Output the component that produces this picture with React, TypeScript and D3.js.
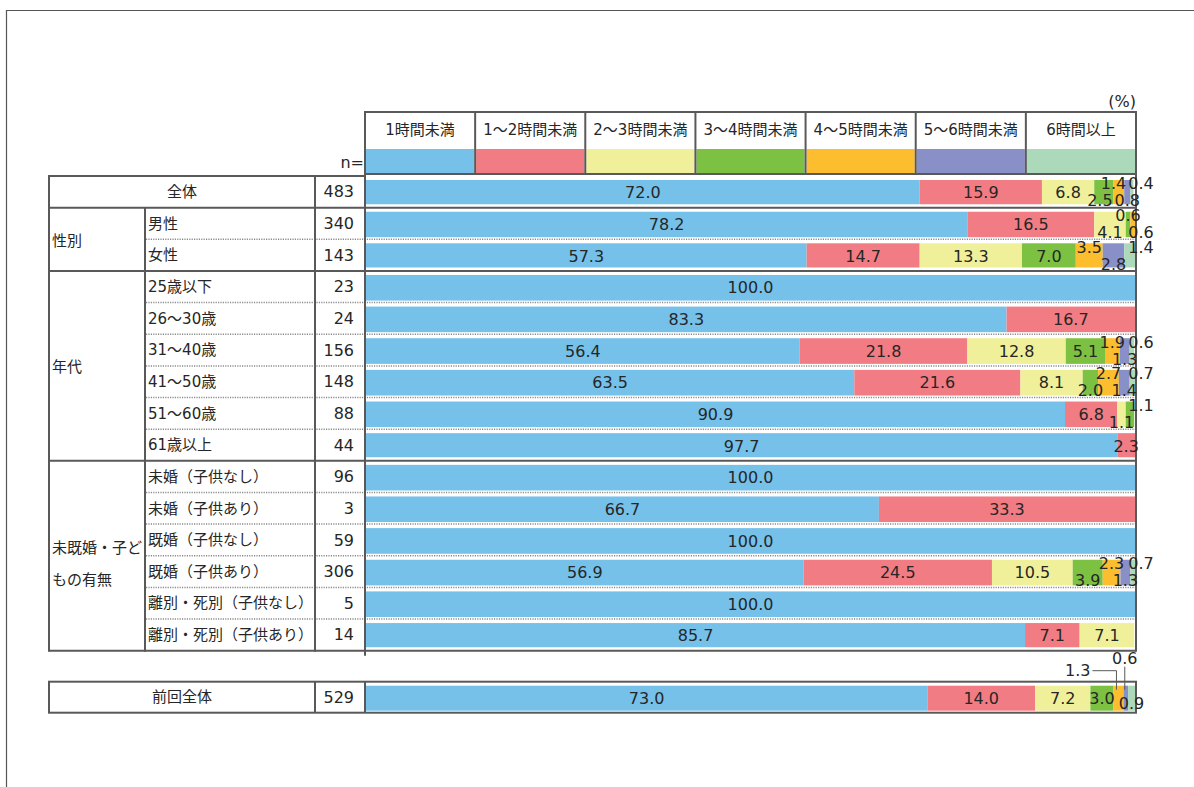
import React from 'react';
import * as d3 from 'd3';

const categories = ['1時間未満', '1～2時間未満', '2～3時間未満', '3～4時間未満', '4～5時間未満', '5～6時間未満', '6時間以上'];
const colors = ['#75c1ea', '#f27c83', '#f0f09b', '#7dc142', '#fcbe2e', '#8890c7', '#acd9ba'];

const rowLabels = [
  '全体', '男性', '女性', '25歳以下', '26～30歳', '31～40歳', '41～50歳', '51～60歳', '61歳以上',
  '未婚（子供なし）', '未婚（子供あり）', '既婚（子供なし）', '既婚（子供あり）', '離別・死別（子供なし）', '離別・死別（子供あり）',
];
const nValues = [483, 340, 143, 23, 24, 156, 148, 88, 44, 96, 3, 59, 306, 5, 14];

const groups = [
  { name: ['全体'], from: 0, to: 0 },
  { name: ['性別'], from: 1, to: 2 },
  { name: ['年代'], from: 3, to: 8 },
  { name: ['未既婚・子ど', 'もの有無'], from: 9, to: 14 },
];

const values = [
  [72.0, 15.9, 6.8, 2.5, 1.4, 0.8, 0.4],
  [78.2, 16.5, 4.1, 0.6, 0.6, 0, 0],
  [57.3, 14.7, 13.3, 7.0, 3.5, 2.8, 1.4],
  [100.0, 0, 0, 0, 0, 0, 0],
  [83.3, 16.7, 0, 0, 0, 0, 0],
  [56.4, 21.8, 12.8, 5.1, 1.9, 1.3, 0.6],
  [63.5, 21.6, 8.1, 2.0, 2.7, 1.4, 0.7],
  [90.9, 6.8, 1.1, 1.1, 0, 0, 0],
  [97.7, 2.3, 0, 0, 0, 0, 0],
  [100.0, 0, 0, 0, 0, 0, 0],
  [66.7, 33.3, 0, 0, 0, 0, 0],
  [100.0, 0, 0, 0, 0, 0, 0],
  [56.9, 24.5, 10.5, 3.9, 2.3, 1.3, 0.7],
  [100.0, 0, 0, 0, 0, 0, 0],
  [85.7, 7.1, 7.1, 0, 0, 0, 0],
];

const prevLabel = '前回全体';
const prevN = 529;
const prevValues = [73.0, 14.0, 7.2, 3.0, 1.3, 0.6, 0.9];

const FONT = '"DejaVu Sans", "Noto Sans CJK JP", sans-serif';
const FS = 16;   // numbers
const FJ = 15;   // japanese labels
const LINE = '#595959';
const TXT = '#262626';

// table columns
const xTable = 49, xSub = 145, xN = 315, xBar = 365, xEnd = 1136;
const tableTop = 176, tableBottom = 650.7;
const prevTop = 681.7, prevBottom = 712.7;
const legendTop = 112, legendMid = 149, legendBottom = 174;

const x = d3.scaleLinear().domain([0, 100]).range([xBar + 1, xEnd - 1]);
const y = d3.scaleBand<number>().domain(d3.range(rowLabels.length)).range([tableTop, tableBottom]);
const legendX = d3.scaleBand<number>().domain(d3.range(categories.length)).range([xBar, xEnd]);

const textW = (s: string) => s.split('').reduce((a, c) => a + (c === '.' ? 0.318 : 0.636), 0) * FS;

type Lab = { text: string; x: number; dy: number; level: number; callout?: number };

function stack(vals: number[]) {
  let acc = 0;
  return vals
    .map((v, k) => {
      const s = { v, k, x0: x(acc), x1: x(acc + v) };
      acc += v;
      return s;
    })
    .filter(s => s.v > 0);
}

function makeLabels(vals: number[], prev = false): Lab[] {
  const segs = stack(vals);
  const small = segs.filter(s => s.v < 5);
  const labels: Lab[] = segs.map(s => ({ text: s.v.toFixed(1), x: (s.x0 + s.x1) / 2, dy: 0, level: 0 }));

  if (prev) {
    // previous survey: first small centred, middle ones called out, last one below
    small.forEach((s, j) => {
      const lab = labels[segs.indexOf(s)];
      if (j === small.length - 1) { lab.dy = 5; lab.level = 1; }
      else if (j > 0) lab.callout = j;
    });
    return labels;
  }

  if (small.length > 1) {
    const n = small.length;
    const last = segs[segs.length - 1];
    // the last category's label sits top right, otherwise start below
    const lastTop = last.k === categories.length - 1;
    small.forEach((s, j) => {
      const lab = labels[segs.indexOf(s)];
      const top = lastTop ? (n - 1 - j) % 2 === 0 : j % 2 === 1;
      lab.level = top ? -1 : 1;
      lab.dy = top ? -9 : 8;
    });
    const lastLab = labels[labels.length - 1];
    if (last.x1 - last.x0 < 12 && lastLab.level !== 0) lastLab.x = Math.max(lastLab.x, xEnd + 5);
    // push overlapping labels on the same level to the left
    for (const lv of [-1, 1]) {
      const row = labels.filter(l => l.level === lv);
      for (let i = row.length - 2; i >= 0; i--) {
        const lim = row[i + 1].x - textW(row[i + 1].text) / 2 - 2 - textW(row[i].text) / 2;
        if (row[i].x > lim) row[i].x = lim;
      }
    }
  }
  return labels;
}

const BarRects: React.FC<{ vals: number[]; top: number; h: number }> = ({ vals, top, h }) => (
  <g>
    {stack(vals).map(s => (
      <rect key={s.k} x={s.x0} y={top} width={Math.max(0, s.x1 - s.x0)} height={h} fill={colors[s.k]} />
    ))}
  </g>
);

const BarLabels: React.FC<{ vals: number[]; top: number; h: number; prev?: boolean }> = ({ vals, top, h, prev }) => {
  const labels = makeLabels(vals, prev);
  const cy = top + h / 2;
  return (
    <g>
      {labels.map((l, i) => {
        if (l.callout === 1) {
          const sx = l.x - 2;
          const ly = top - 15;
          return (
            <g key={i}>
              <polyline points={`${sx - 24},${ly} ${sx},${ly} ${sx},${top + 4}`} fill="none" stroke={LINE} strokeWidth={1} />
              <text x={sx - 26} y={ly} dy="0.35em" textAnchor="end" fontSize={FS} fill={TXT}>{l.text}</text>
            </g>
          );
        }
        if (l.callout === 2) {
          const sx = l.x - 1;
          return (
            <g key={i}>
              <line x1={sx} x2={sx} y1={top - 19} y2={top + 4} stroke={LINE} strokeWidth={1} />
              <text x={sx} y={top - 27} dy="0.35em" textAnchor="middle" fontSize={FS} fill={TXT}>{l.text}</text>
            </g>
          );
        }
        return (
          <text key={i} x={l.x} y={cy + l.dy} dy="0.35em" textAnchor="middle" fontSize={FS} fill={TXT}>{l.text}</text>
        );
      })}
    </g>
  );
};

export default function App() {
  const bw = y.bandwidth();
  const groupLines = groups.map(g => y(g.to)! + bw);
  const subLines: number[] = [];
  groups.forEach(g => {
    for (let i = g.from; i < g.to; i++) subLines.push(y(i)! + bw);
  });

  return (
    <svg width={1194} height={787} style={{ position: 'absolute', left: 0, top: 0 }} fontFamily={FONT}>
      <rect width={1194} height={787} fill="#fff" />
      {/* outer frame */}
      <line x1={6.5} x2={6.5} y1={10} y2={787} stroke="#555" strokeWidth={1.2} />
      <line x1={6} x2={1194} y1={10.5} y2={10.5} stroke="#555" strokeWidth={1.2} />

      {/* legend header */}
      <text x={xEnd} y={101} dy="0.35em" textAnchor="end" fontSize={FS} fill={TXT}>(%)</text>
      {categories.map((c, k) => (
        <g key={c}>
          <rect x={legendX(k)! + 1} y={legendMid} width={legendX.bandwidth() - 2} height={legendBottom - legendMid - 1} fill={colors[k]} />
          <text x={legendX(k)! + legendX.bandwidth() / 2} y={130} dy="0.35em" textAnchor="middle" fontSize={FJ} fill={TXT}>{c}</text>
        </g>
      ))}
      <rect x={xBar} y={legendTop} width={xEnd - xBar} height={legendBottom - legendTop} fill="none" stroke={LINE} strokeWidth={2} />
      {categories.slice(1).map((c, k) => (
        <line key={c} x1={legendX(k + 1)} x2={legendX(k + 1)} y1={legendTop} y2={legendBottom} stroke={LINE} strokeWidth={2} />
      ))}
      <text x={xBar - 1} y={162} dy="0.35em" textAnchor="end" fontSize={FS} fill={TXT}>n=</text>

      {/* bars */}
      {values.map((v, i) => (
        <BarRects key={i} vals={v} top={y(i)! + 4} h={bw - 6} />
      ))}
      <BarRects vals={prevValues} top={prevTop + 4} h={prevBottom - prevTop - 6} />

      {/* dotted row separators */}
      {subLines.map((ly, i) => (
        <g key={i}>
          <line x1={xSub + 1} x2={xEnd} y1={ly} y2={ly} stroke="#fff" strokeWidth={3} />
          <line x1={xSub + 1} x2={xEnd} y1={ly} y2={ly} stroke="#8c8c8c" strokeWidth={1.5} strokeDasharray="1.2,1.2" />
        </g>
      ))}

      {/* table frame */}
      <line x1={xTable} x2={xBar} y1={tableTop} y2={tableTop} stroke={LINE} strokeWidth={2} />
      {groupLines.map((ly, i) => (
        <g key={i}>
          <line x1={xBar} x2={xEnd} y1={ly - 2.5} y2={ly - 2.5} stroke="#fff" strokeWidth={2} />
          <line x1={xBar} x2={xEnd} y1={ly + 2.5} y2={ly + 2.5} stroke="#fff" strokeWidth={2} />
          <line x1={xTable} x2={xEnd} y1={ly} y2={ly} stroke={LINE} strokeWidth={2} />
        </g>
      ))}
      <line x1={xTable} x2={xTable} y1={tableTop - 1} y2={tableBottom + 1} stroke={LINE} strokeWidth={2} />
      <line x1={xSub} x2={xSub} y1={groupLines[0]} y2={tableBottom + 1} stroke={LINE} strokeWidth={2} />
      <line x1={xN} x2={xN} y1={tableTop - 1} y2={tableBottom + 1} stroke={LINE} strokeWidth={2} />
      <line x1={xBar} x2={xBar} y1={legendTop} y2={tableBottom + 5} stroke={LINE} strokeWidth={2} />
      <line x1={xEnd} x2={xEnd} y1={legendTop} y2={tableBottom + 1} stroke={LINE} strokeWidth={2} />

      {/* previous survey row */}
      <rect x={xTable} y={prevTop} width={xEnd - xTable} height={prevBottom - prevTop} fill="none" stroke={LINE} strokeWidth={2} />
      <line x1={xN} x2={xN} y1={prevTop} y2={prevBottom} stroke={LINE} strokeWidth={2} />
      <line x1={xBar} x2={xBar} y1={prevTop} y2={prevBottom} stroke={LINE} strokeWidth={2} />

      {/* bar labels on top of the grid */}
      {values.map((v, i) => (
        <BarLabels key={i} vals={v} top={y(i)! + 4} h={bw - 6} />
      ))}
      <BarLabels vals={prevValues} top={prevTop + 4} h={prevBottom - prevTop - 6} prev />

      {/* table text */}
      {groups.map((g, gi) => {
        const top = y(g.from)!;
        const bottom = y(g.to)! + bw;
        const cy = (top + bottom) / 2;
        if (gi === 0) {
          return (
            <text key={gi} x={(xTable + xN) / 2} y={cy} dy="0.35em" textAnchor="middle" fontSize={FJ} fill={TXT}>{g.name[0]}</text>
          );
        }
        return g.name.map((t, j) => (
          <text key={`${gi}-${j}`} x={xTable + 3} y={g.name.length > 1 ? cy - 8 + j * 32 : cy + 1} dy="0.35em" fontSize={FJ} fill={TXT}>{t}</text>
        ));
      })}
      {rowLabels.map((t, i) => (
        <g key={t}>
          {i > 0 && (
            <text x={xSub + 3} y={y(i)! + bw / 2} dy="0.35em" fontSize={FJ} fill={TXT}>{t}</text>
          )}
          <text x={xBar - 11} y={y(i)! + bw / 2} dy="0.35em" textAnchor="end" fontSize={FS} fill={TXT}>{nValues[i]}</text>
        </g>
      ))}
      <text x={(xTable + xN) / 2} y={(prevTop + prevBottom) / 2} dy="0.35em" textAnchor="middle" fontSize={FJ} fill={TXT}>{prevLabel}</text>
      <text x={xBar - 11} y={(prevTop + prevBottom) / 2} dy="0.35em" textAnchor="end" fontSize={FS} fill={TXT}>{prevN}</text>
    </svg>
  );
}
